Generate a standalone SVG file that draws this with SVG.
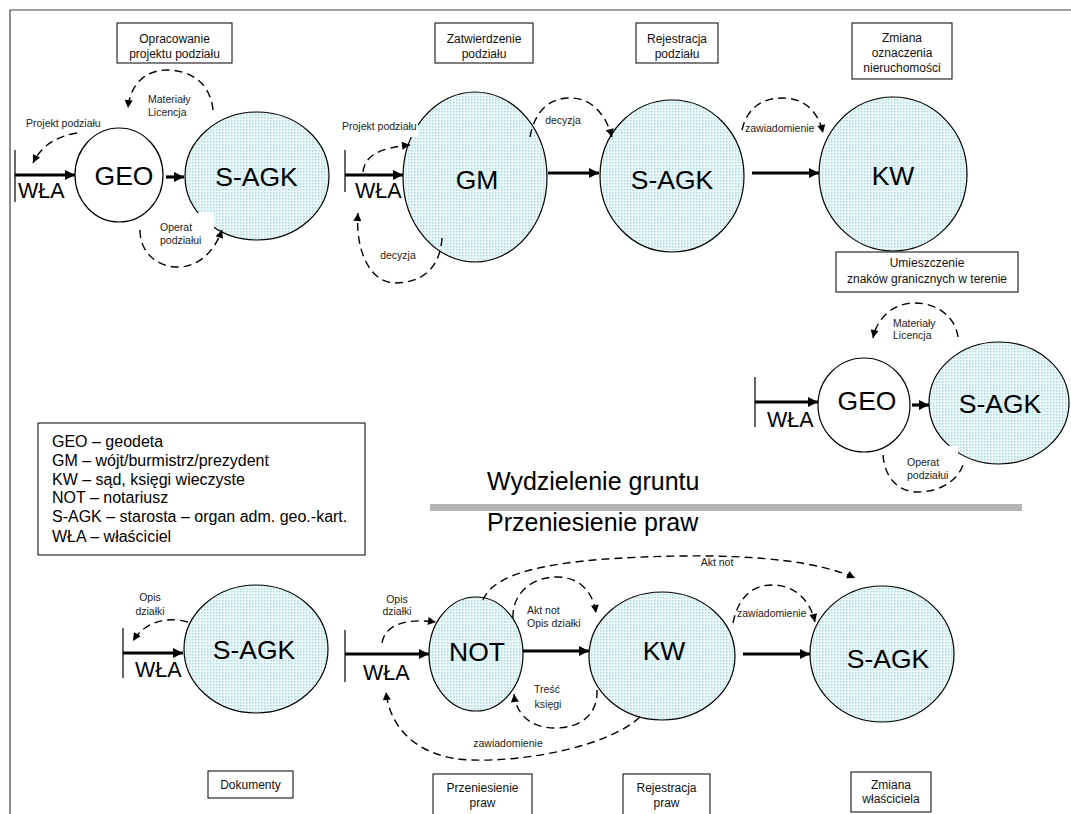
<svg xmlns="http://www.w3.org/2000/svg" width="1071" height="814" viewBox="0 0 1071 814">
<style>
text{font-family:"Liberation Sans",Arial,sans-serif;fill:#000}
.big{font-size:26.5px;text-anchor:middle}
.wla{font-size:21.5px}
.lbl{font-size:10.5px;fill:#222}
.lblc{font-size:10.5px;fill:#222;text-anchor:middle}
.box{fill:#fff;stroke:#000;stroke-width:1}
.boxt{font-size:12px;text-anchor:middle;fill:#111}
.leg{font-size:16px}
.node{stroke:#000;stroke-width:1.2}
.pat{fill:url(#dots)}
.wht{fill:#fff}
.thick{stroke:#000;stroke-width:3.2;fill:none;marker-end:url(#ah)}
.dash{stroke:#000;stroke-width:1.4;fill:none;stroke-dasharray:8 5}
.da{marker-end:url(#ad)}
.frame{stroke:#444;stroke-width:1.2;fill:none}
.title{font-size:25px}
</style>
<defs>
<pattern id="dots" width="3" height="3" patternUnits="userSpaceOnUse">
<rect width="3" height="3" fill="#eef8f9"/>
<rect x="0" y="0" width="1.5" height="1.5" fill="#a9dbe0"/>
</pattern>
<marker id="ah" viewBox="0 0 10 10" refX="10" refY="5" markerWidth="11" markerHeight="10" markerUnits="userSpaceOnUse" orient="auto">
<path d="M0,0 L10,5 L0,10 z" fill="#000"/>
</marker>
<marker id="ad" viewBox="0 0 10 10" refX="10" refY="5" markerWidth="9" markerHeight="8" markerUnits="userSpaceOnUse" orient="auto">
<path d="M0,0 L10,5 L0,10 z" fill="#000"/>
</marker>
</defs>
<rect width="1071" height="814" fill="#fff"/>
<path class="frame" d="M10,814 L10,10 L1071,10"/>

<!-- caption boxes -->
<g id="box-opracowanie"><rect class="box" x="117" y="23" width="115" height="40"/><text class="boxt" x="174.5" y="43">Opracowanie</text><text class="boxt" x="174.5" y="58">projektu podziału</text></g>
<g id="box-zatwierdzenie"><rect class="box" x="435" y="23" width="98" height="40"/><text class="boxt" x="484" y="43">Zatwierdzenie</text><text class="boxt" x="484" y="58">podziału</text></g>
<g id="box-rejestracja-podzialu"><rect class="box" x="636" y="23" width="82" height="40"/><text class="boxt" x="677" y="43">Rejestracja</text><text class="boxt" x="677" y="58">podziału</text></g>
<g id="box-zmiana-oznaczenia"><rect class="box" x="852" y="23" width="100" height="56"/><text class="boxt" x="902" y="42">Zmiana</text><text class="boxt" x="902" y="57">oznaczenia</text><text class="boxt" x="902" y="72">nieruchomości</text></g>
<g id="box-umieszczenie"><rect class="box" x="836" y="252" width="182" height="40"/><text class="boxt" x="927" y="267">Umieszczenie</text><text class="boxt" x="927" y="283">znaków granicznych w terenie</text></g>
<g id="box-dokumenty"><rect class="box" x="208" y="771" width="85" height="27"/><text class="boxt" x="250.5" y="789">Dokumenty</text></g>
<g id="box-przeniesienie"><rect class="box" x="433" y="774" width="99" height="50"/><text class="boxt" x="482.5" y="792">Przeniesienie</text><text class="boxt" x="482.5" y="807">praw</text></g>
<g id="box-rejestracja-praw"><rect class="box" x="623" y="774" width="87" height="50"/><text class="boxt" x="666.5" y="792">Rejestracja</text><text class="boxt" x="666.5" y="807">praw</text></g>
<g id="box-zmiana-wlasciciela"><rect class="box" x="851" y="772" width="80" height="40"/><text class="boxt" x="891" y="789">Zmiana</text><text class="boxt" x="891" y="803">właściciela</text></g>

<!-- legend -->
<g id="legend">
<rect class="box" x="38" y="423" width="327" height="132"/>
<text class="leg" x="52" y="447">GEO – geodeta</text>
<text class="leg" x="52" y="466">GM – wójt/burmistrz/prezydent</text>
<text class="leg" x="52" y="485">KW – sąd, księgi wieczyste</text>
<text class="leg" x="52" y="503">NOT – notariusz</text>
<text class="leg" x="52" y="522">S-AGK – starosta – organ adm. geo.-kart.</text>
<text class="leg" x="52" y="542">WŁA – właściciel</text>
</g>

<!-- section divider -->
<g id="divider">
<text class="title" x="487" y="490">Wydzielenie gruntu</text>
<rect x="430" y="504" width="592" height="7" fill="#b4b4b4"/>
<text class="title" x="487" y="531">Przeniesienie praw</text>
</g>

<!-- nodes: top row -->
<g id="wla-1"><line x1="15" y1="150" x2="15" y2="202" stroke="#000" stroke-width="1.2"/><text class="wla" x="18" y="198">WŁA</text></g>
<g id="geo-1"><ellipse class="node" cx="119" cy="175" rx="44" ry="47" fill="#fff"/><text class="big" x="124" y="185">GEO</text></g>
<g id="sagk-1"><ellipse class="node pat" cx="257" cy="176" rx="72" ry="64"/><text class="big" x="256.5" y="186">S-AGK</text></g>
<g id="wla-2"><line x1="345" y1="150" x2="345" y2="192" stroke="#000" stroke-width="1.2"/><text class="wla" x="355" y="198">WŁA</text></g>
<g id="gm"><ellipse class="node pat" cx="475" cy="177" rx="72" ry="85"/><text class="big" x="477" y="189">GM</text></g>
<g id="sagk-2"><ellipse class="node pat" cx="672" cy="176" rx="72" ry="76"/><text class="big" x="672" y="189">S-AGK</text></g>
<g id="kw-1"><ellipse class="node pat" cx="893" cy="174" rx="74" ry="77"/><text class="big" x="893" y="185">KW</text></g>

<!-- nodes: right group -->
<g id="wla-3"><line x1="755" y1="377" x2="755" y2="427" stroke="#000" stroke-width="1.2"/><text class="wla" x="767" y="427">WŁA</text></g>
<g id="geo-2"><ellipse class="node" cx="864" cy="405" rx="46" ry="47" fill="#fff"/><text class="big" x="867" y="410">GEO</text></g>
<g id="sagk-3"><ellipse class="node pat" cx="999" cy="403" rx="70" ry="61"/><text class="big" x="1000" y="413">S-AGK</text></g>

<!-- nodes: bottom row -->
<g id="wla-4"><line x1="123" y1="628" x2="123" y2="678" stroke="#000" stroke-width="1.2"/><text class="wla" x="135" y="677">WŁA</text></g>
<g id="sagk-4"><ellipse class="node pat" cx="256" cy="649" rx="72" ry="64"/><text class="big" x="254" y="659">S-AGK</text></g>
<g id="wla-5"><line x1="345" y1="630" x2="345" y2="682" stroke="#000" stroke-width="1.2"/><text class="wla" x="363" y="680">WŁA</text></g>
<g id="not"><ellipse class="node pat" cx="476" cy="654" rx="47" ry="57"/><text class="big" x="477" y="661">NOT</text></g>
<g id="kw-2"><ellipse class="node pat" cx="662" cy="656" rx="73" ry="64"/><text class="big" x="664" y="660">KW</text></g>
<g id="sagk-5"><ellipse class="node pat" cx="882" cy="654" rx="72" ry="68"/><text class="big" x="888" y="668">S-AGK</text></g>

<!-- label backgrounds -->
<g id="label-bg">
<rect class="wht" x="155" y="213" width="59" height="35"/>
<rect class="wht" x="338" y="117" width="80" height="20"/>
<rect class="wht" x="893" y="446" width="65" height="40"/>
</g>

<!-- connectors -->
<g id="connectors">
<line class="thick" x1="15" y1="175" x2="75" y2="175"/>
<line class="thick" x1="166" y1="177" x2="184" y2="177"/>
<line class="thick" x1="345" y1="175" x2="403" y2="175"/>
<line class="thick" x1="548" y1="173" x2="599" y2="173"/>
<line class="thick" x1="752" y1="173" x2="819" y2="173"/>
<line class="thick" x1="755" y1="402" x2="818" y2="402"/>
<line class="thick" x1="912" y1="405" x2="929" y2="405"/>
<line class="thick" x1="123" y1="653" x2="183" y2="653"/>
<line class="thick" x1="345" y1="654" x2="429" y2="654"/>
<line class="thick" x1="523" y1="651" x2="589" y2="651"/>
<line class="thick" x1="743" y1="654" x2="810" y2="654"/>

<path class="dash da" d="M77,133 Q45,138 33,163"/>
<path class="dash da" d="M213,110 C210,80 187,70 167,70 C145,70 130,85 128,108"/>
<path class="dash da" d="M140,230 C140,255 160,268 180,267 C200,266 215,250 222,230"/>
<path class="dash da" d="M363,172 C365,155 380,148 410,145"/>
<path class="dash da" d="M442,238 C440,270 420,283 395,283 C370,283 355,250 358,213"/>
<path class="dash da" d="M530,137 C535,110 550,98 570,98 C590,98 605,112 612,137"/>
<path class="dash da" d="M742,130 C748,105 765,98 783,98 C803,98 818,110 823,133"/>
<path class="dash da" d="M958,337 C955,315 935,303 915,303 C893,303 877,318 873,338"/>
<path class="dash" d="M883,455 C885,480 900,492 918,492 C940,492 958,480 963,465"/>
<path class="dash da" d="M188,622 C165,616 145,622 133,641"/>
<path class="dash da" d="M382,643 C385,625 405,618 436,622"/>
<path class="dash da" d="M513,618 C512,595 530,577 557,577 C580,577 593,592 596,613"/>
<path class="dash da" d="M483,600 C495,570 560,558 680,556 C760,555 820,562 855,578"/>
<path class="dash da" d="M597,690 C598,715 580,728 555,728 C528,728 516,712 514,694"/>
<path class="dash da" d="M640,717 C610,745 530,762 470,760 C420,758 390,730 386,692"/>
<path class="dash da" d="M733,623 C738,598 752,585 772,585 C795,585 810,600 815,622"/>

<text class="lbl" x="26" y="127">Projekt podziału</text>
<text class="lbl" x="148" y="103">Materiały</text>
<text class="lbl" x="148" y="116">Licencja</text>
<text class="lbl" x="160" y="231">Operat</text>
<text class="lbl" x="160" y="244">podziałui</text>
<text class="lbl" x="342" y="130">Projekt podziału</text>
<text class="lblc" x="398" y="259">decyzja</text>
<text class="lblc" x="563" y="124">decyzja</text>
<text class="lbl" x="745" y="132">zawiadomienie</text>
<text class="lbl" x="893" y="327">Materiały</text>
<text class="lbl" x="893" y="339">Licencja</text>
<text class="lbl" x="907" y="466">Operat</text>
<text class="lbl" x="907" y="479">podziałui</text>
<text class="lblc" x="150" y="601">Opis</text>
<text class="lblc" x="150" y="615">działki</text>
<text class="lblc" x="397" y="603">Opis</text>
<text class="lblc" x="397" y="615">działki</text>
<text class="lbl" x="527" y="614">Akt not</text>
<text class="lbl" x="527" y="627">Opis działki</text>
<text class="lblc" x="717" y="566">Akt not</text>
<text class="lblc" x="547" y="693">Treść</text>
<text class="lblc" x="548" y="708">księgi</text>
<text class="lblc" x="508" y="747">zawiadomienie</text>
<text class="lbl" x="737" y="617">zawiadomienie</text>
</g>
</svg>
